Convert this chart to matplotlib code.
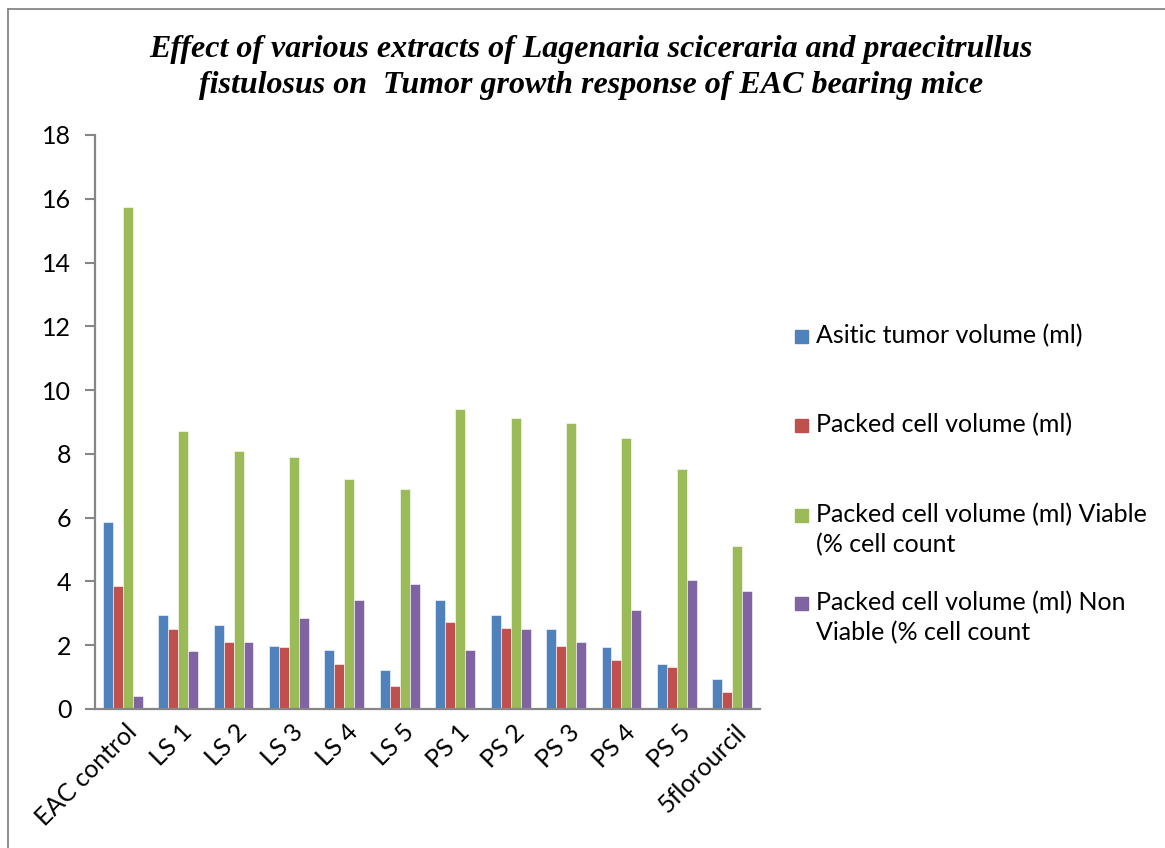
import matplotlib
matplotlib.use("Agg")
import matplotlib.pyplot as plt
import matplotlib.transforms as mtransforms
import numpy as np
from matplotlib.patches import Rectangle
from matplotlib.lines import Line2D

categories = ["EAC control", "LS 1", "LS 2", "LS 3", "LS 4", "LS 5",
              "PS 1", "PS 2", "PS 3", "PS 4", "PS 5", "5florourcil"]
asitic_tumor_volume = [5.85, 2.95, 2.62, 1.98, 1.85, 1.22, 3.43, 2.96, 2.51, 1.95, 1.41, 0.94]
packed_cell_volume = [3.85, 2.51, 2.09, 1.95, 1.41, 0.72, 2.74, 2.54, 1.99, 1.54, 1.33, 0.53]
viable = [15.74, 8.71, 8.09, 7.91, 7.22, 6.89, 9.40, 9.11, 8.96, 8.51, 7.52, 5.10]
non_viable = [0.40, 1.81, 2.09, 2.84, 3.42, 3.92, 1.85, 2.52, 2.11, 3.10, 4.04, 3.70]
series_labels = ["Asitic tumor volume (ml)",
                 "Packed cell volume (ml)",
                 "Packed cell volume (ml) Viable\n(% cell count",
                 "Packed cell volume (ml) Non\nViable (% cell count"]
yticks = [0, 2, 4, 6, 8, 10, 12, 14, 16, 18]
title_lines = ["Effect of various extracts of Lagenaria sciceraria and praecitrullus",
               "fistulosus on  Tumor growth response of EAC bearing mice"]

colors = ["#4F81BD", "#C0504D", "#9BBB59", "#8064A2"]
series = [asitic_tumor_volume, packed_cell_volume, viable, non_viable]

W, H = 1165, 848
FS = 18
fig = plt.figure(figsize=(W / 100, H / 100), dpi=100)
fig.patch.set_facecolor("white")

ax = fig.add_axes([95 / W, 1 - 709 / H, (760 - 95) / W, (709 - 135) / H])
x = np.arange(len(categories))
bw = 0.18
for i, (vals, c) in enumerate(zip(series, colors)):
    ax.bar(x + (i - 1.5) * bw, vals, width=bw, color=c, edgecolor="white", linewidth=0.4, zorder=2)

ax.set_xlim(-0.5, len(categories) - 0.5)
ax.set_ylim(0, 18)
ax.set_yticks(yticks)
ax.set_yticklabels([str(t) for t in yticks], fontsize=FS, family="Lato")
ax.set_xticks(x)
ax.set_xticklabels(categories, rotation=45, ha="right", rotation_mode="anchor",
                   fontsize=FS, family="Lato")
ax.tick_params(axis="x", length=0, pad=8)
offset = mtransforms.ScaledTranslation(2 / 100, 0, fig.dpi_scale_trans)
for lbl in ax.get_xticklabels():
    lbl.set_transform(lbl.get_transform() + offset)
ax.tick_params(axis="y", length=7, width=1.5, color="#868686", pad=10, direction="out")
for s in ["top", "right"]:
    ax.spines[s].set_visible(False)
for s in ["left", "bottom"]:
    ax.spines[s].set_color("#868686")
    ax.spines[s].set_linewidth(1.6)

# title
for line, yy in zip(title_lines, [50, 86]):
    fig.text(591 / W, 1 - yy / H, line, ha="center", va="center",
             family="Liberation Serif", fontstyle="italic", fontweight="bold", fontsize=23)

# legend
ys = [336, 425, 515, 603]
for lab, c, yy in zip(series_labels, colors, ys):
    fig.add_artist(Rectangle((795 / W, 1 - (yy + 6.5) / H), 13 / W, 13 / H,
                             transform=fig.transFigure, color=c))
    for k, part in enumerate(lab.split("\n")):
        fig.text(816 / W, 1 - (yy + 30 * k) / H, part, ha="left", va="center",
                 fontsize=FS, family="Lato")

# chart border (top & left visible)
fig.add_artist(Line2D([8 / W, 8 / W], [0, 1 - 8.5 / H], transform=fig.transFigure,
                      color="#868686", linewidth=1.3))
fig.add_artist(Line2D([8 / W, 1], [1 - 8.5 / H, 1 - 8.5 / H], transform=fig.transFigure,
                      color="#868686", linewidth=1.3))

fig.savefig("out.png", dpi=100, facecolor="white")
